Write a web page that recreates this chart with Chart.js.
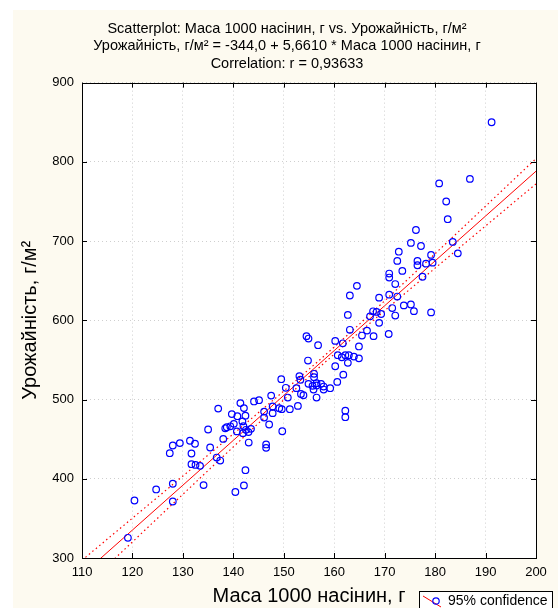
<!DOCTYPE html>
<html>
<head>
<meta charset="utf-8">
<title>Scatterplot</title>
<script src="https://cdn.jsdelivr.net/npm/chart.js@4.4.1/dist/chart.umd.min.js"></script>
<style>
  html, body { margin: 0; padding: 0; background: #ffffff; }
  #wrap { width: 558px; height: 608px; }
</style>
</head>
<body>
<div id="wrap"><canvas id="plot" width="558" height="608"></canvas></div>
<script>
// Маса 1000 насінин (x) та урожайність (y)
const massa = [
  191.2, 186.9, 180.8, 182.2, 182.5, 176.2, 175.2, 177.2, 183.5, 184.5,
  172.8, 172.5, 179.2, 179.5, 176.5, 176.5, 178.2, 173.5, 170.9, 170.9,
  177.5, 172.1, 170.9, 172.5, 168.9, 171.5, 173.8, 175.2, 175.8, 172.1,
  179.2, 169.3, 164.5, 163.1, 162.7, 167.7, 168.4, 167.1, 168.9, 170.8,
  163.1, 166.5, 165.5, 167.8, 164.9, 161.7, 160.2, 154.5, 154.9, 156.8,
  160.7, 161.5, 162.2, 162.9, 163.9, 164.9, 162.7, 160.2, 154.8, 161.8,
  160.6, 156.0, 156.0, 153.1, 153.3, 149.5, 152.5, 150.4, 154.9, 156.5,
  157.4, 155.7, 157.9, 155.9, 157.9, 159.2, 153.4, 153.9, 150.8, 147.5,
  156.5, 147.8, 149.1, 149.6, 151.2, 152.8, 146.1, 146.1, 147.8, 147.1,
  162.2, 162.2, 156.5,
  119.1, 120.4, 124.7, 128.0, 128.0, 127.4, 128.0, 129.4, 131.4, 132.4,
  131.7, 131.7, 132.5, 133.4, 135.0, 135.4, 134.1, 137.0, 138.0, 136.7,
  137.4, 138.4, 138.7, 139.4, 140.1, 139.7, 140.8, 141.4, 142.1, 142.4,
  141.8, 142.0, 140.7, 142.5, 143.0, 143.5, 143.05, 142.4, 142.1, 140.4,
  144.1, 145.1, 146.5, 146.5, 149.7, 141.9
];
const urozhai = [
  850, 778.5, 772.8, 750, 727.6, 714, 697.7, 693.8, 699, 684.5,
  686.6, 675, 682.6, 672.8, 675, 669.5, 671.5, 662.4, 659, 654,
  655, 645.8, 632.4, 630, 628.6, 615.5, 618.8, 620, 611.6, 606,
  610, 608, 643.5, 631.3, 606.8, 611.4, 610.6, 605, 596.8, 582.7,
  588, 587, 580.8, 580, 567, 571, 574, 580, 577, 568.6,
  556, 553.4, 556, 556, 554.2, 552, 546.3, 542, 549.2, 531.4,
  522.3, 532.5, 528.2, 529.6, 525, 525.7, 514.4, 514.8, 519.8, 520.6,
  519.8, 517.3, 516.4, 512.6, 512.6, 514.3, 507, 505.4, 502.5, 505,
  502.5, 491.2, 489, 487.8, 487.8, 492, 484.8, 477.2, 482.8, 468.5,
  486, 477.7, 517.8,
  325.5, 372.6, 386.5, 393.7, 371.3, 432.3, 442, 445, 448, 444.2,
  431.9, 418.4, 417.5, 416.3, 462.2, 439.5, 392, 488.6, 450.3, 426.8,
  423, 463.7, 465, 466.2, 469.3, 481.6, 479, 495.5, 489.2, 479.6,
  472.4, 466.5, 459.8, 461.8, 458.9, 463, 445.7, 410.8, 391.6, 383.3,
  497.6, 499.2, 443.3, 439, 460, 457.6
];

// Лінія регресії та межі 95% довірчого інтервалу
const bandX  = [110, 120, 130, 140, 150, 160, 170, 180, 190, 200];
const fitY   = [278.7, 335.3, 391.9, 448.5, 505.2, 561.8, 618.4, 675.0, 731.6, 788.2];
const upperY = [297.2, 350.3, 403.4, 456.7, 510.7, 566.3, 624.6, 684.1, 744.1, 804.2];
const lowerY = [260.2, 320.3, 380.4, 440.3, 499.7, 557.3, 612.2, 665.9, 719.1, 772.2];

const titleLines = [
  "Scatterplot: Маса 1000 насінин, г vs. Урожайність, г/м²",
  "Урожайність, г/м² = -344,0 + 5,6610 * Маса 1000 насінин, г",
  "Correlation: r = 0,93633"
];
const xTitle = "Маса 1000 насінин, г";
const yTitle = "Урожайність, г/м²";
const legendText = "95% confidence";

const FONT = "'Liberation Sans', Arial, sans-serif";

const toXY = (xs, ys) => xs.map((x, i) => ({ x, y: ys[i] }));

// ---------- фон, рамка, внутрішні риски, легенда ----------
const decorPlugin = {
  id: "decor",
  beforeDraw(chart) {
    const { ctx, chartArea: a } = chart;
    ctx.save();
    ctx.fillStyle = "#fdfaf0";
    ctx.fillRect(13, 10, chart.width - 13, chart.height - 10);
    ctx.fillStyle = "#ffffff";
    ctx.fillRect(a.left, a.top, a.right - a.left, a.bottom - a.top);
    ctx.restore();
  },
  afterDraw(chart) {
    const { ctx, chartArea: a, scales } = chart;
    ctx.save();
    ctx.strokeStyle = "#000";
    ctx.lineWidth = 1;
    ctx.strokeRect(Math.round(a.left) + 0.5, Math.round(a.top) + 0.5,
      Math.round(a.right - a.left), Math.round(a.bottom - a.top));

    const tick = 5;
    ctx.beginPath();
    scales.x.ticks.forEach(t => {
      const px = Math.round(scales.x.getPixelForValue(t.value)) + 0.5;
      ctx.moveTo(px, a.bottom); ctx.lineTo(px, a.bottom - tick);
      ctx.moveTo(px, a.top); ctx.lineTo(px, a.top + tick);
    });
    scales.y.ticks.forEach(t => {
      const py = Math.round(scales.y.getPixelForValue(t.value)) + 0.5;
      ctx.moveTo(a.left, py); ctx.lineTo(a.left + tick, py);
      ctx.moveTo(a.right, py); ctx.lineTo(a.right - tick, py);
    });
    ctx.stroke();

    // легенда
    ctx.fillStyle = "#ffffff";
    ctx.fillRect(419.5, 591.5, 133, 22);
    ctx.strokeRect(419.5, 591.5, 133, 22);
    ctx.strokeStyle = "#ff0000";
    ctx.beginPath();
    ctx.moveTo(423, 596); ctx.lineTo(441, 607);
    ctx.stroke();
    ctx.strokeStyle = "#0000ff";
    ctx.lineWidth = 1.2;
    ctx.beginPath();
    ctx.arc(436, 601, 3.2, 0, Math.PI * 2);
    ctx.stroke();
    ctx.fillStyle = "#000";
    ctx.font = `14px ${FONT}`;
    ctx.textAlign = "left";
    ctx.textBaseline = "middle";
    ctx.fillText(legendText, 448, 601);
    ctx.restore();
  }
};

const gridStyle = {
  color: "#cfcfcf",
  lineWidth: 1,
  drawTicks: false
};

new Chart(document.getElementById("plot"), {
  type: "scatter",
  data: {
    datasets: [
      {
        label: "points",
        data: toXY(massa, urozhai),
        pointStyle: "circle",
        pointRadius: 3.3,
        pointBorderWidth: 1.2,
        borderColor: "#0000ff",
        backgroundColor: "rgba(0,0,0,0)"
      },
      {
        type: "line",
        label: "fit",
        data: toXY(bandX, fitY),
        borderColor: "#ff0000",
        borderWidth: 1,
        pointRadius: 0,
        tension: 0,
        clip: 0
      },
      {
        type: "line",
        label: "upper",
        data: toXY(bandX, upperY),
        borderColor: "#ff0000",
        borderWidth: 1.2,
        borderDash: [1.5, 3],
        pointRadius: 0,
        cubicInterpolationMode: "monotone",
        clip: 0
      },
      {
        type: "line",
        label: "lower",
        data: toXY(bandX, lowerY),
        borderColor: "#ff0000",
        borderWidth: 1.2,
        borderDash: [1.5, 3],
        pointRadius: 0,
        cubicInterpolationMode: "monotone",
        clip: 0
      }
    ]
  },
  options: {
    responsive: false,
    animation: false,
    devicePixelRatio: 1,
    layout: { padding: { left: 38, right: 22, top: 0, bottom: 0 } },
    plugins: {
      legend: { display: false },
      tooltip: { enabled: false },
      title: {
        display: true,
        text: titleLines,
        color: "#000",
        font: { family: FONT, size: 14.5, weight: "normal", lineHeight: 1.21 },
        padding: { top: 20, bottom: 10 }
      }
    },
    scales: {
      x: {
        type: "linear",
        min: 110,
        max: 200,
        ticks: { stepSize: 10, color: "#000", padding: 7, font: { family: FONT, size: 13 } },
        grid: { ...gridStyle },
        border: { display: false, dash: [1, 3] },
        title: {
          display: true,
          text: xTitle,
          color: "#000",
          font: { family: FONT, size: 20 },
          padding: { top: 0, bottom: 0 }
        },
        afterFit(scale) { scale.height = 50; }
      },
      y: {
        type: "linear",
        min: 300,
        max: 900,
        ticks: { stepSize: 100, color: "#000", padding: 8, font: { family: FONT, size: 13 } },
        grid: { ...gridStyle },
        border: { display: false, dash: [1, 3] },
        title: {
          display: true,
          text: yTitle,
          color: "#000",
          font: { family: FONT, size: 20 },
          padding: { top: -20, bottom: 0 }
        },
        afterFit(scale) { scale.width = 44; }
      }
    }
  },
  plugins: [decorPlugin]
});
</script>
</body>
</html>
